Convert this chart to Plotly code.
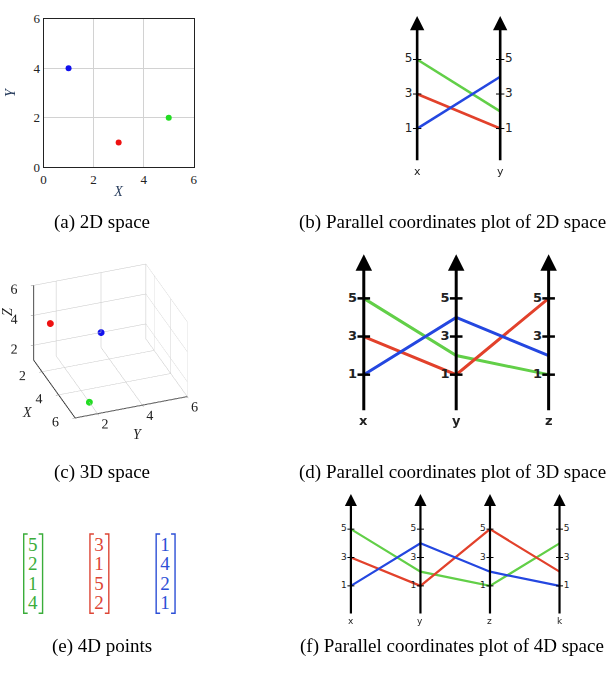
import plotly.graph_objects as go

W, H = 606, 676

# ---------------- data ----------------
series_names = ["green", "red", "blue"]
line_colors = ["#62cf48", "#e2412b", "#2447e0"]
point_colors = ["#22dd22", "#ee1111", "#1111ee"]
matrix_colors = ["#3aad3a", "#dd4535", "#2c4fd6"]

coord_x = [5, 3, 1]
coord_y = [2, 1, 4]
coord_z = [1, 5, 2]
coord_k = [4, 2, 1]

dims2 = ["x", "y"]
dims3 = ["x", "y", "z"]
dims4 = ["x", "y", "z", "k"]

ticks_2d = [0, 2, 4, 6]
ticks_3d = [2, 4, 6]
ticks_pc = [1, 3, 5]

caption_a = "(a) 2D space"
caption_b = "(b) Parallel coordinates plot of 2D space"
caption_c = "(c) 3D space"
caption_d = "(d) Parallel coordinates plot of 3D space"
caption_e = "(e) 4D points"
caption_f = "(f) Parallel coordinates plot of 4D space"

SERIF = "Liberation Serif"
SANS = "DejaVu Sans"


def px(x):
    return x / W


def py(y):
    return 1 - y / H


fig = go.Figure()
annotations = []
shapes = []

# ---------------- (a) 2D scatter ----------------
for i in range(3):
    fig.add_trace(go.Scatter(x=[coord_x[i]], y=[coord_y[i]], mode="markers",
                             marker=dict(color=point_colors[i], size=6),
                             xaxis="x", yaxis="y", showlegend=False, hoverinfo="skip"))

axis_a = dict(range=[0, 6], tickvals=ticks_2d, showgrid=True, gridcolor="#d2d2d2",
              gridwidth=1, showline=True, mirror=True, linecolor="#222", linewidth=1,
              zeroline=False, tickfont=dict(family=SERIF, size=13, color="#222"),
              ticks="", fixedrange=True)
layout = dict(
    xaxis=dict(domain=[px(41), px(193)], anchor="y",
               title=dict(text="<i>X</i>", font=dict(family=SERIF, size=14), standoff=0),
               **axis_a),
    yaxis=dict(domain=[py(164), py(12)], anchor="x",
               title=dict(text="<i>Y</i>", font=dict(family=SERIF, size=14), standoff=14),
               **axis_a),
)

# ---------------- (c) 3D scatter ----------------
fig.add_trace(go.Scatter3d(x=coord_x, y=coord_y, z=coord_z, mode="markers",
                           marker=dict(color=point_colors, size=4),
                           scene="scene", showlegend=False, hoverinfo="skip"))
ax3 = dict(range=[1, 6], tickvals=ticks_3d, showbackground=False, gridcolor="#c6c6c6",
           gridwidth=1, showline=True, linecolor="#333", linewidth=2, zeroline=False,
           showspikes=False, tickfont=dict(family=SERIF, size=13, color="#222"),
           ticks="outside", ticklen=3, tickcolor="#888", tickangle=0, title=dict(text=""))
r = 2.0
k3 = 1.22
layout["scene"] = dict(
    domain=dict(x=[px(8), px(209)], y=[py(441), py(241)]),
    xaxis=ax3, yaxis=ax3, zaxis=ax3,
    aspectmode="manual", aspectratio=dict(x=k3, y=k3, z=0.73 * k3),
    camera=dict(eye=dict(x=0.804 * r, y=-0.297 * r, z=0.515 * r),
                up=dict(x=0, y=0, z=1), center=dict(x=0, y=0, z=0),
                projection=dict(type="orthographic")),
)
for t, x, y, ang in [("<i>X</i>", 24, 415, 0), ("<i>Y</i>", 137, 437, 0), ("<i>Z</i>", 4, 312, -90)]:
    annotations.append(dict(x=px(x), y=py(y), xref="paper", yref="paper", text=t,
                            showarrow=False, textangle=ang, xanchor="center", yanchor="middle",
                            font=dict(family=SERIF, size=14, color="#222")))


# ---------------- parallel coordinate helper ----------------
def parallel(n, dims, values, xdom, ydom, lw, tick_size, tick_w, tick_font, label_font,
             label_sides, bottom, top, label_y, arrow_w, bold=False):
    xa, ya = f"x{n}", f"y{n}"
    layout[f"xaxis{n}"] = dict(domain=xdom, range=[-0.5, len(dims) - 0.5], visible=False,
                               anchor=ya, fixedrange=True)
    layout[f"yaxis{n}"] = dict(domain=ydom, range=[-2, 8], visible=False, anchor=xa,
                               fixedrange=True)
    idx = list(range(len(dims)))
    for s in range(len(values[0])):
        fig.add_trace(go.Scatter(x=idx, y=[v[s] for v in values], mode="lines",
                                 line=dict(color=line_colors[s], width=lw),
                                 xaxis=xa, yaxis=ya, showlegend=False, hoverinfo="skip"))
    for i, d in enumerate(dims):
        lab = [f"<b>{t}</b>" if bold else str(t) for t in ticks_pc]
        fig.add_trace(go.Scatter(x=[i] * len(ticks_pc), y=ticks_pc, mode="markers+text",
                                 marker=dict(symbol="line-ew", size=tick_size,
                                             line=dict(color="black", width=tick_w)),
                                 text=lab, textposition=label_sides[i],
                                 textfont=dict(family=SANS, size=tick_font, color="#222"),
                                 xaxis=xa, yaxis=ya, showlegend=False, hoverinfo="skip",
                                 cliponaxis=False))
        annotations.append(dict(x=i, y=top, ax=i, ay=bottom, xref=xa, yref=ya, axref=xa,
                                ayref=ya, text="", showarrow=True, arrowhead=2,
                                arrowsize=1.1, arrowwidth=arrow_w, arrowcolor="black"))
        annotations.append(dict(x=i, y=label_y, xref=xa, yref=ya,
                                text=f"<b>{d}</b>" if bold else d,
                                showarrow=False, yanchor="middle",
                                font=dict(family=SANS, size=label_font, color="#222")))


parallel(2, dims2, [coord_x, coord_y], [px(377), px(545)], [py(177.25), py(0.75)],
         2.6, 6, 1, 12, 11, ["middle left", "middle right"], -0.92, 7.52, -1.5, 2.6)
parallel(3, dims3, [coord_x, coord_y, coord_z], [px(318.25), px(598.75)],
         [py(434.5), py(239.5)], 3, 9, 2.5, 13, 13,
         ["middle left", "middle left", "middle left"], -0.95, 7.31, -1.42, 3, bold=True)
parallel(5, dims4, [coord_x, coord_y, coord_z, coord_k], [px(316.8), px(598.2)],
         [py(635.5), py(490.5)], 2.2, 5, 1, 9, 9,
         ["middle left", "middle left", "middle left", "middle right"], -1.05, 7.48, -1.5, 2.2)

# ---------------- (e) 4D points as column vectors ----------------
points4 = [[coord_x[s], coord_y[s], coord_z[s], coord_k[s]] for s in range(3)]
layout["xaxis4"] = dict(domain=[px(3.2), px(204.2)], range=[-0.4, 2.6], visible=False,
                        anchor="y4", fixedrange=True)
layout["yaxis4"] = dict(domain=[py(631), py(531)], range=[-4, 1], visible=False,
                        anchor="x4", fixedrange=True)
for s in range(3):
    fig.add_trace(go.Scatter(x=[s] * 4, y=[-r_ for r_ in range(4)], mode="text",
                             text=[str(v) for v in points4[s]],
                             textfont=dict(family=SERIF, size=19, color=matrix_colors[s]),
                             xaxis="x4", yaxis="y4", showlegend=False, hoverinfo="skip"))
    for side, arm in ((-0.135, 0.06), (0.15, -0.06)):
        xb = s + side
        shapes.append(dict(type="path", xref="x4", yref="y4",
                           path=f"M {xb + arm},0.6 L {xb},0.6 L {xb},-3.45 L {xb + arm},-3.45",
                           line=dict(color=matrix_colors[s], width=1.4)))

# ---------------- captions ----------------
for text, x, y in [(caption_a, 50, 220), (caption_b, 297, 220), (caption_c, 50, 476),
                   (caption_d, 297, 476), (caption_e, 48, 653), (caption_f, 298, 653)]:
    annotations.append(dict(x=px(x), y=py(y), xref="paper", yref="paper", text=text,
                            showarrow=False, xanchor="left", yanchor="middle",
                            font=dict(family=SERIF, size=19, color="black")))

layout.update(width=W, height=H, margin=dict(l=0, r=0, t=0, b=0),
              paper_bgcolor="white", plot_bgcolor="white", annotations=annotations,
              shapes=shapes, showlegend=False)
fig.update_layout(**layout)
fig.write_html("out.html", config=dict(displayModeBar=False))
